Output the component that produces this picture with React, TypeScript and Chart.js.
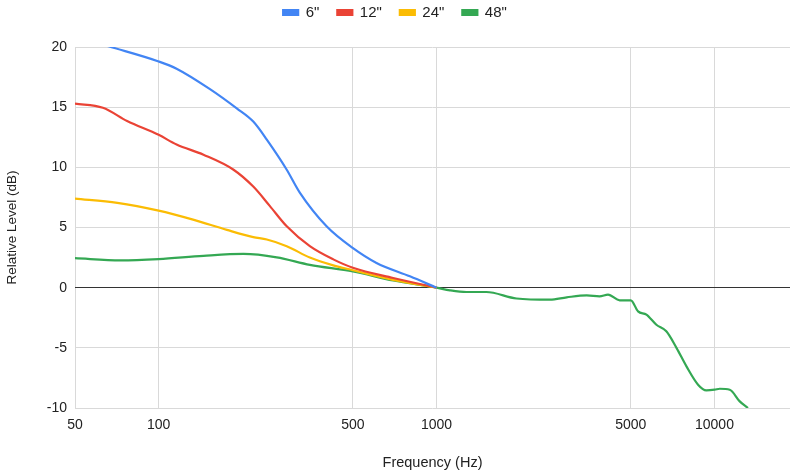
import React, { useEffect, useRef } from "react";
import { Chart, registerables } from "chart.js";

Chart.register(...registerables);

const seriesNames = ['6"', '12"', '24"', '48"'];
const seriesColors = ["#4285F4", "#EA4335", "#FBBC04", "#34A853"];

const freq6 = [50, 66, 100, 116, 153, 191, 219, 245, 289, 322, 402, 499, 608, 802, 1000];
const level6 = [20.9, 20.06, 18.8, 18.2, 16.5, 14.9, 13.8, 12.3, 9.8, 7.9, 5.1, 3.3, 2.05, 0.94, 0];

const freq12 = [50, 63, 77, 100, 116, 145, 186, 219, 251, 289, 350, 425, 500, 698, 1000];
const level12 = [15.3, 14.95, 13.85, 12.7, 11.9, 11.05, 9.8, 8.4, 6.8, 5.1, 3.45, 2.35, 1.65, 0.8, 0];

const freq24 = [50, 71, 100, 133, 176, 219, 245, 289, 350, 425, 500, 698, 1000];
const level24 = [7.4, 7.05, 6.4, 5.65, 4.8, 4.2, 4.0, 3.45, 2.5, 1.85, 1.45, 0.65, 0];

const freq48 = [50, 73, 100, 145, 202, 266, 350, 500, 698, 1000, 1117, 1280, 1510, 1940, 2560, 2940, 3470, 3860, 4140, 4560, 5000, 5310, 5690, 6180, 6710, 7300, 7930, 8730, 9350, 10020, 10450, 11350, 12330, 13200];
const level48 = [2.45, 2.27, 2.38, 2.65, 2.8, 2.52, 1.9, 1.35, 0.6, 0, -0.22, -0.36, -0.36, -0.9, -1.0, -0.8, -0.64, -0.72, -0.58, -1.05, -1.05, -1.97, -2.24, -3.08, -3.63, -5.0, -6.54, -8.06, -8.54, -8.48, -8.4, -8.48, -9.45, -10];

const xTicks = [50, 100, 500, 1000, 5000, 10000];
const yTicks = [-10, -5, 0, 5, 10, 15, 20];

const xTitle = "Frequency (Hz)";
const yTitle = "Relative Level (dB)";

const FONT = "Arial, 'Liberation Sans', sans-serif";

export default function App() {
  const ref = useRef<HTMLCanvasElement | null>(null);
  useEffect(() => {
    if (!ref.current) return;
    const toPts = (xs: number[], ys: number[]) => xs.map((x, i) => ({ x, y: ys[i] }));
    const all = [
      toPts(freq6, level6),
      toPts(freq12, level12),
      toPts(freq24, level24),
      toPts(freq48, level48),
    ];
    const chart = new Chart(ref.current, {
      type: "line",
      data: {
        datasets: all.map((d, i) => ({
          label: seriesNames[i],
          data: d,
          xAxisID: "x",
          yAxisID: "y",
          borderColor: seriesColors[i],
          backgroundColor: seriesColors[i],
          borderWidth: 2.2,
          pointRadius: 0,
          cubicInterpolationMode: "monotone" as const,
          fill: false,
        })),
      },
      options: {
        animation: false,
        responsive: false,
        layout: { padding: { top: -13, right: 0, left: 0, bottom: 0 } },
        plugins: {
          tooltip: { enabled: false },
          legend: {
            position: "top",
            labels: {
              boxWidth: 15,
              boxHeight: 5,
              padding: 18,
              color: "#222",
              font: { family: FONT, size: 15 },
            },
          },
        },
        scales: {
          x: {
            type: "logarithmic",
            position: "bottom",
            min: 50,
            max: 18700,
            afterBuildTicks: (s: any) => {
              s.ticks = xTicks.map((v) => ({ value: v }));
            },
            afterFit: (s: any) => {
              s.height = 67;
            },
            ticks: {
              autoSkip: false,
              maxRotation: 0,
              padding: 9,
              color: "#222",
              font: { family: FONT, size: 14 },
              callback: (v: any) => String(v),
            },
            grid: { color: "#d9d9d9", lineWidth: 1, drawTicks: false },
            border: { display: false },
            title: {
              display: true,
              text: xTitle,
              color: "#222",
              font: { family: FONT, size: 14.5 },
              padding: { top: 10, bottom: 3 },
            },
          },
          spacer: {
            type: "linear",
            axis: "x",
            position: "top",
            display: true,
            afterFit: (s: any) => {
              s.height = 17;
            },
            ticks: { display: false },
            grid: { display: false, drawOnChartArea: false, drawTicks: false },
            border: { display: false },
          },
          y: {
            type: "linear",
            min: -10,
            max: 20,
            afterBuildTicks: (s: any) => {
              s.ticks = yTicks.map((v) => ({ value: v }));
            },
            afterFit: (s: any) => {
              s.width = 75;
            },
            ticks: {
              padding: 8,
              color: "#222",
              font: { family: FONT, size: 14 },
            },
            grid: {
              color: (c: any) => (c.tick && c.tick.value === 0 ? "#333333" : "#d9d9d9"),
              lineWidth: 1,
              drawTicks: false,
            },
            border: { display: false },
            title: {
              display: true,
              text: yTitle,
              color: "#222",
              font: { family: FONT, size: 13.5 },
              padding: { top: 4, bottom: 6 },
            },
          },
        },
      },
    });
    return () => chart.destroy();
  }, []);
  return (
    <div style={{ position: "fixed", left: 0, top: 0, width: 790, height: 475, background: "#fff" }}>
      <canvas ref={ref} width={790} height={475} style={{ width: 790, height: 475, display: "block" }} />
    </div>
  );
}
